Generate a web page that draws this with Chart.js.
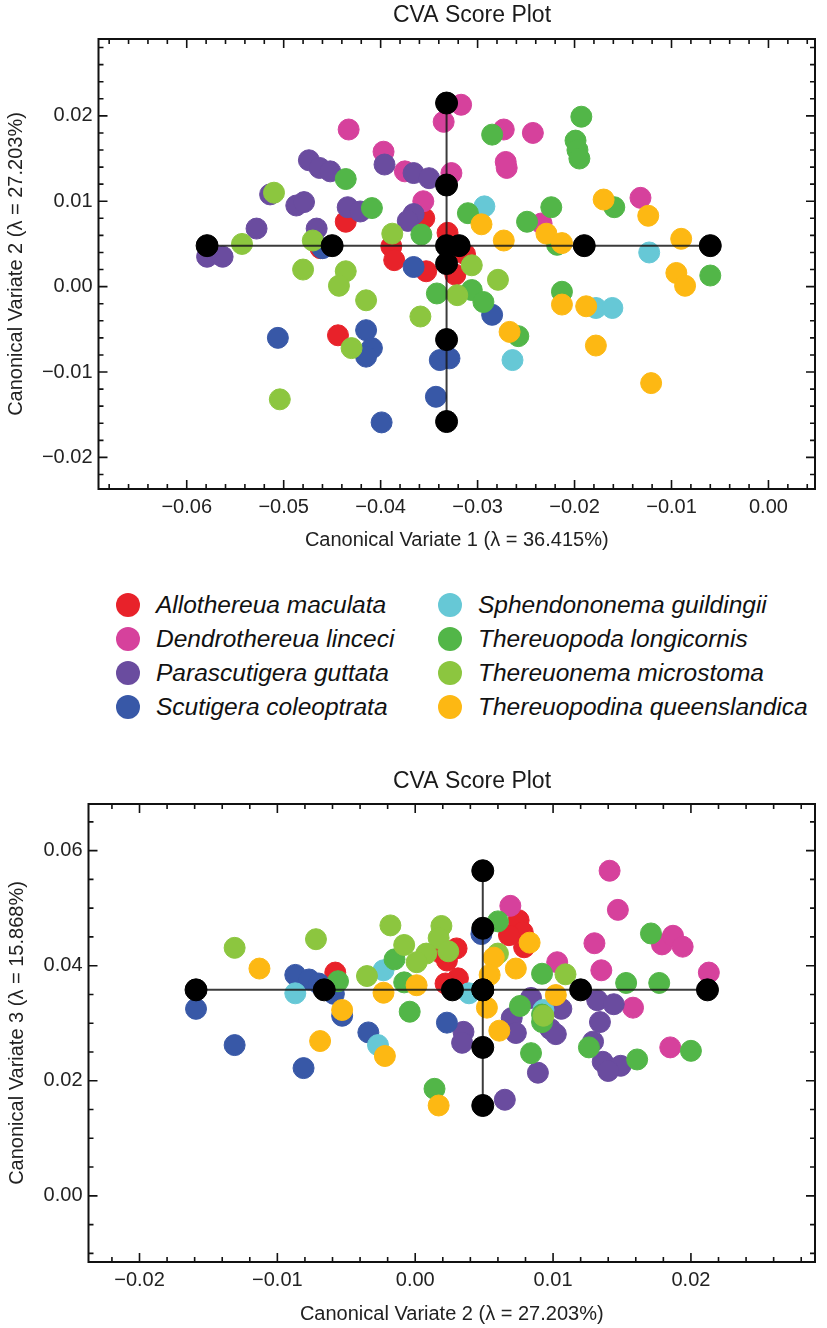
<!DOCTYPE html>
<html>
<head>
<meta charset="utf-8">
<script src="https://cdn.jsdelivr.net/npm/chart.js@4.4.1/dist/chart.umd.min.js"></script>
<style>
  body { margin: 0; background: #fff; }
  #page { position: relative; width: 827px; height: 1328px; background: #fff; }
  #top-chart { position: absolute; left: 0; top: 0; }
  #bottom-chart { position: absolute; left: 0; top: 760px; }
  #legend { position: absolute; left: 0; top: 588px; width: 827px; height: 140px;
            font: italic 24.5px "Liberation Sans", Arial, sans-serif; color: #111; }
  .item { position: absolute; display: flex; align-items: center; height: 34px; white-space: nowrap; }
  .dot { width: 24px; height: 24px; border-radius: 50%; margin-right: 16px; flex: none; }
</style>
</head>
<body>
<div id="page">
  <canvas id="top-chart" width="827" height="560"></canvas>
  <div id="legend"></div>
  <canvas id="bottom-chart" width="827" height="568"></canvas>
</div>
<script>
const species = ['Allothereua maculata', 'Dendrothereua linceci', 'Parascutigera guttata', 'Scutigera coleoptrata',
                 'Sphendononema guildingii', 'Thereuopoda longicornis', 'Thereuonema microstoma', 'Thereuopodina queenslandica'];
const colors = ['#e8222a', '#d6419c', '#6a4c9f', '#3858a7', '#66c8d6', '#52b648', '#8cc63f', '#fdb813'];

// scores on CV1 / CV2 (top plot)
const amTop = [[-0.0436, 0.0076], [-0.0355, 0.0080], [-0.0389, 0.0047], [-0.0386, 0.0031], [-0.0353, 0.0018],
               [-0.0331, 0.0063], [-0.0313, 0.0038], [-0.0323, 0.0014], [-0.0444, -0.0057], [-0.0462, 0.0045]];
const dlTop = [[-0.0433, 0.0184], [-0.0397, 0.0158], [-0.0375, 0.0135], [-0.0335, 0.0193], [-0.0317, 0.0213],
               [-0.0327, 0.0133], [-0.0356, 0.0100], [-0.0273, 0.0184], [-0.0243, 0.0180], [-0.0271, 0.0146],
               [-0.0270, 0.0139], [-0.0132, 0.0104], [-0.0234, 0.0074]];
const pgTop = [[-0.0474, 0.0148], [-0.0463, 0.0139], [-0.0452, 0.0135], [-0.0514, 0.0108], [-0.0487, 0.0095],
               [-0.0479, 0.0099], [-0.0528, 0.0068], [-0.0466, 0.0068], [-0.0579, 0.0035], [-0.0563, 0.0035],
               [-0.0396, 0.0143], [-0.0366, 0.0133], [-0.0350, 0.0127], [-0.0366, 0.0085], [-0.0372, 0.0077],
               [-0.0434, 0.0093], [-0.0421, 0.0088]];
const scTop = [[-0.0506, -0.0060], [-0.0415, -0.0051], [-0.0409, -0.0072], [-0.0415, -0.0082], [-0.0366, 0.0023],
               [-0.0399, -0.0159], [-0.0339, -0.0086], [-0.0329, -0.0084], [-0.0343, -0.0129], [-0.0285, -0.0033],
               [-0.0460, 0.0045]];
const sgTop = [[-0.0293, 0.0094], [-0.0123, 0.0040], [-0.0178, -0.0025], [-0.0161, -0.0025], [-0.0264, -0.0086]];
const tlTop = [[-0.0193, 0.0199], [-0.0199, 0.0171], [-0.0197, 0.0160], [-0.0195, 0.0150], [-0.0285, 0.0178],
               [-0.0436, 0.0126], [-0.0409, 0.0092], [-0.0310, 0.0086], [-0.0249, 0.0076], [-0.0224, 0.0093],
               [-0.0159, 0.0093], [-0.0060, 0.0013], [-0.0358, 0.0061], [-0.0342, -0.0008], [-0.0306, -0.0004],
               [-0.0294, -0.0018], [-0.0213, -0.0006], [-0.0258, -0.0058], [-0.0218, 0.0049]];
const tmTop = [[-0.0510, 0.0110], [-0.0543, 0.0050], [-0.0470, 0.0054], [-0.0388, 0.0062], [-0.0480, 0.0020],
               [-0.0436, 0.0018], [-0.0443, 0.0001], [-0.0415, -0.0016], [-0.0359, -0.0035], [-0.0306, 0.0025],
               [-0.0279, 0.0008], [-0.0321, -0.0010], [-0.0504, -0.0132], [-0.0430, -0.0072]];
const tqTop = [[-0.0170, 0.0102], [-0.0124, 0.0083], [-0.0296, 0.0073], [-0.0273, 0.0054], [-0.0229, 0.0062],
               [-0.0213, 0.0051], [-0.0090, 0.0056], [-0.0095, 0.0016], [-0.0086, 0.0001], [-0.0213, -0.0021],
               [-0.0188, -0.0023], [-0.0267, -0.0053], [-0.0178, -0.0069], [-0.0121, -0.0113]];

// scores on CV2 / CV3 (bottom plot)
const amBot = [[-0.0058, 0.0388], [0.0018, 0.0423], [0.0030, 0.0430], [0.0023, 0.0409], [0.0031, 0.0378],
               [0.0022, 0.0369], [0.0075, 0.0479], [0.0078, 0.0458], [0.0079, 0.0432], [0.0068, 0.0453]];
const dlBot = [[0.0141, 0.0565], [0.0147, 0.0497], [0.0069, 0.0504], [0.0130, 0.0439], [0.0135, 0.0392],
               [0.0103, 0.0406], [0.0158, 0.0327], [0.0179, 0.0437], [0.0187, 0.0452], [0.0194, 0.0433],
               [0.0213, 0.0388], [0.0185, 0.0258]];
const pgBot = [[0.0065, 0.0167], [0.0089, 0.0214], [0.0070, 0.0309], [0.0073, 0.0283], [0.0084, 0.0344],
               [0.0098, 0.0290], [0.0102, 0.0281], [0.0106, 0.0325], [0.0035, 0.0285], [0.0034, 0.0266],
               [0.0132, 0.0340], [0.0144, 0.0333], [0.0134, 0.0302], [0.0129, 0.0268], [0.0136, 0.0233],
               [0.0149, 0.0226], [0.0140, 0.0217]];
const scBot = [[-0.0159, 0.0325], [-0.0131, 0.0262], [-0.0081, 0.0222], [-0.0087, 0.0384], [-0.0077, 0.0376],
               [-0.0070, 0.0369], [-0.0059, 0.0351], [-0.0053, 0.0313], [-0.0034, 0.0284], [0.0023, 0.0301],
               [0.0048, 0.0455]];
const sgBot = [[-0.0087, 0.0352], [-0.0023, 0.0392], [-0.0027, 0.0262], [0.0039, 0.0352], [0.0093, 0.0323]];
const tlBot = [[-0.0056, 0.0373], [-0.0015, 0.0411], [-0.0004, 0.0320], [-0.0008, 0.0371], [0.0060, 0.0477],
               [0.0092, 0.0386], [0.0076, 0.0330], [0.0092, 0.0302], [0.0084, 0.0248], [0.0126, 0.0258],
               [0.0161, 0.0237], [0.0153, 0.0370], [0.0177, 0.0370], [0.0171, 0.0456], [0.0200, 0.0252],
               [0.0014, 0.0186], [0.0092, 0.0315]];
const tmBot = [[-0.0131, 0.0431], [-0.0072, 0.0446], [-0.0018, 0.0470], [-0.0008, 0.0436], [-0.0035, 0.0382],
               [0.0019, 0.0469], [0.0017, 0.0448], [0.0008, 0.0421], [0.0001, 0.0406], [0.0024, 0.0425],
               [0.0060, 0.0421], [0.0109, 0.0385], [0.0093, 0.0313]];
const tqBot = [[-0.0113, 0.0395], [-0.0053, 0.0323], [-0.0069, 0.0269], [-0.0023, 0.0353], [-0.0022, 0.0243],
               [0.0001, 0.0366], [0.0017, 0.0157], [0.0057, 0.0414], [0.0073, 0.0395], [0.0083, 0.0440],
               [0.0052, 0.0327], [0.0061, 0.0287], [0.0102, 0.0349], [0.0054, 0.0384]];

// black reference points, one arm along each axis
const topArmX = [-0.0579, -0.0450, -0.0332, -0.0319, -0.0190, -0.0060];
const topArmXAt = 0.0048;
const topArmY = [0.0215, 0.0119, 0.0027, -0.0062, -0.0158];
const topArmYAt = -0.0332;
const botArmX = [-0.0159, -0.0066, 0.0027, 0.0049, 0.0120, 0.0212];
const botArmXAt = 0.0358;
const botArmY = [0.0565, 0.0465, 0.0358, 0.0258, 0.0157];
const botArmYAt = 0.0049;

const topXTicks = [-0.06, -0.05, -0.04, -0.03, -0.02, -0.01, 0];
const topYTicks = [-0.02, -0.01, 0, 0.01, 0.02];
const botXTicks = [-0.02, -0.01, 0, 0.01, 0.02];
const botYTicks = [0, 0.02, 0.04, 0.06];

const FONT = '"Liberation Sans", Arial, sans-serif';
const fmt = v => (v < -1e-9 ? '\u2212' : '') + Math.abs(v).toFixed(2);

// legend between the plots
const legend = document.getElementById('legend');
species.forEach((name, i) => {
  const el = document.createElement('div');
  el.className = 'item';
  el.style.left = (i < 4 ? 116 : 438) + 'px';
  el.style.top = ((i % 4) * 34) + 'px';
  el.innerHTML = '<span class="dot" style="background:' + colors[i] + '"></span><span>' + name + '</span>';
  legend.appendChild(el);
});

// Mathematica-like frame: box with inward ticks on all four sides, plus the plot title
const framePlugin = {
  id: 'frame',
  afterDraw(chart, args, o) {
    const { ctx, chartArea: a, scales: { x, y } } = chart;
    const marks = (scale, step, majors) => {
      const out = [];
      const k0 = Math.ceil(scale.min / step - 1e-9), k1 = Math.floor(scale.max / step + 1e-9);
      for (let k = k0; k <= k1; k++) {
        const v = k * step;
        const major = majors.some(m => Math.abs(m - v) < step / 10);
        out.push({ p: scale.getPixelForValue(v), len: major ? 9 : 5 });
      }
      return out;
    };
    ctx.save();
    ctx.strokeStyle = '#111';
    ctx.lineWidth = 1.6;
    ctx.beginPath();
    marks(x, o.minorX, o.majorX).forEach(t => {
      ctx.moveTo(t.p, a.bottom); ctx.lineTo(t.p, a.bottom - t.len);
      ctx.moveTo(t.p, a.top); ctx.lineTo(t.p, a.top + t.len);
    });
    marks(y, o.minorY, o.majorY).forEach(t => {
      ctx.moveTo(a.left, t.p); ctx.lineTo(a.left + t.len, t.p);
      ctx.moveTo(a.right, t.p); ctx.lineTo(a.right - t.len, t.p);
    });
    ctx.stroke();
    ctx.lineWidth = 2;
    ctx.strokeRect(a.left, a.top, a.right - a.left, a.bottom - a.top);
    ctx.fillStyle = '#1a1a1a';
    ctx.font = '23px ' + FONT;
    ctx.textAlign = 'center';
    ctx.textBaseline = 'middle';
    ctx.fillText(o.title, o.titleX, o.titleY);
    ctx.restore();
  }
};

function speciesSets(groups) {
  return groups.map((pts, i) => ({
    label: species[i],
    data: pts.map(p => ({ x: p[0], y: p[1] })),
    backgroundColor: colors[i],
    borderColor: colors[i],
    borderWidth: 1,
    pointRadius: 10.5,
    order: 10 + groups.length - i
  }));
}

function crossSets(hx, hy, vy, vx) {
  const h = hx.map(v => ({ x: v, y: hy }));
  const v = vy.map(w => ({ x: vx, y: w }));
  const line = { showLine: true, pointRadius: 0, borderColor: 'rgba(25,25,25,0.85)', borderWidth: 2, fill: false, order: 1 };
  return [
    Object.assign({ data: h }, line),
    Object.assign({ data: v }, line),
    { data: h.concat(v), pointRadius: 11, backgroundColor: '#000', borderColor: '#000', borderWidth: 1, order: 0 }
  ];
}

function makePlot(id, c) {
  const tickFont = { family: FONT, size: 20 };
  const titleFont = { family: FONT, size: 20 };
  new Chart(document.getElementById(id), {
    type: 'scatter',
    data: { datasets: speciesSets(c.groups).concat(crossSets(c.hx, c.hy, c.vy, c.vx)) },
    options: {
      responsive: false,
      animation: false,
      events: [],
      layout: { padding: { top: c.top, right: c.right, left: 0, bottom: 0 } },
      plugins: {
        legend: { display: false },
        tooltip: { enabled: false },
        frame: { title: 'CVA Score Plot', titleX: 472, titleY: c.titleY,
                 majorX: c.xTicks, majorY: c.yTicks, minorX: c.minorX, minorY: c.minorY }
      },
      scales: {
        x: {
          type: 'linear', min: c.xMin, max: c.xMax,
          grid: { display: false, drawTicks: false }, border: { display: false },
          ticks: { padding: c.xPad, font: tickFont, color: '#222', autoSkip: false, maxRotation: 0, callback: fmt },
          title: { display: true, text: c.xTitle, font: titleFont, color: '#222', padding: { top: 0, bottom: c.xTitlePad } },
          afterBuildTicks: s => { s.ticks = c.xTicks.map(v => ({ value: v })); },
          afterFit: s => { s.height = c.xHeight; }
        },
        y: {
          type: 'linear', min: c.yMin, max: c.yMax,
          grid: { display: false, drawTicks: false }, border: { display: false },
          ticks: { padding: 6, font: tickFont, color: '#222', autoSkip: false, callback: fmt },
          title: { display: true, text: c.yTitle, font: titleFont, color: '#222', padding: { top: c.yTitlePad, bottom: 0 } },
          afterBuildTicks: s => { s.ticks = c.yTicks.map(v => ({ value: v })); },
          afterFit: s => { s.width = c.yWidth; }
        }
      }
    },
    plugins: [framePlugin]
  });
}

makePlot('top-chart', {
  groups: [amTop, dlTop, pgTop, scTop, sgTop, tlTop, tmTop, tqTop],
  hx: topArmX, hy: topArmXAt, vy: topArmY, vx: topArmYAt,
  xMin: -0.0691, xMax: 0.0048, yMin: -0.0237, yMax: 0.0290,
  xTicks: topXTicks, yTicks: topYTicks, minorX: 0.002, minorY: 0.002,
  xTitle: 'Canonical Variate 1 (\u03bb = 36.415%)', yTitle: 'Canonical Variate 2 (\u03bb = 27.203%)',
  top: 39, right: 4, yWidth: 98.5, xHeight: 71, xPad: 6, xTitlePad: 8, yTitlePad: 4, titleY: 16
});

makePlot('bottom-chart', {
  groups: [amBot, dlBot, pgBot, scBot, sgBot, tlBot, tmBot, tqBot],
  hx: botArmX, hy: botArmXAt, vy: botArmY, vx: botArmYAt,
  xMin: -0.0237, xMax: 0.0290, yMin: -0.0115, yMax: 0.0681,
  xTicks: botXTicks, yTicks: botYTicks, minorX: 0.002, minorY: 0.005,
  xTitle: 'Canonical Variate 2 (\u03bb = 27.203%)', yTitle: 'Canonical Variate 3 (\u03bb = 15.868%)',
  top: 44, right: 2, yWidth: 88.5, xHeight: 66, xPad: 6, xTitlePad: 2, yTitlePad: 5, titleY: 22
});
</script>
</body>
</html>
